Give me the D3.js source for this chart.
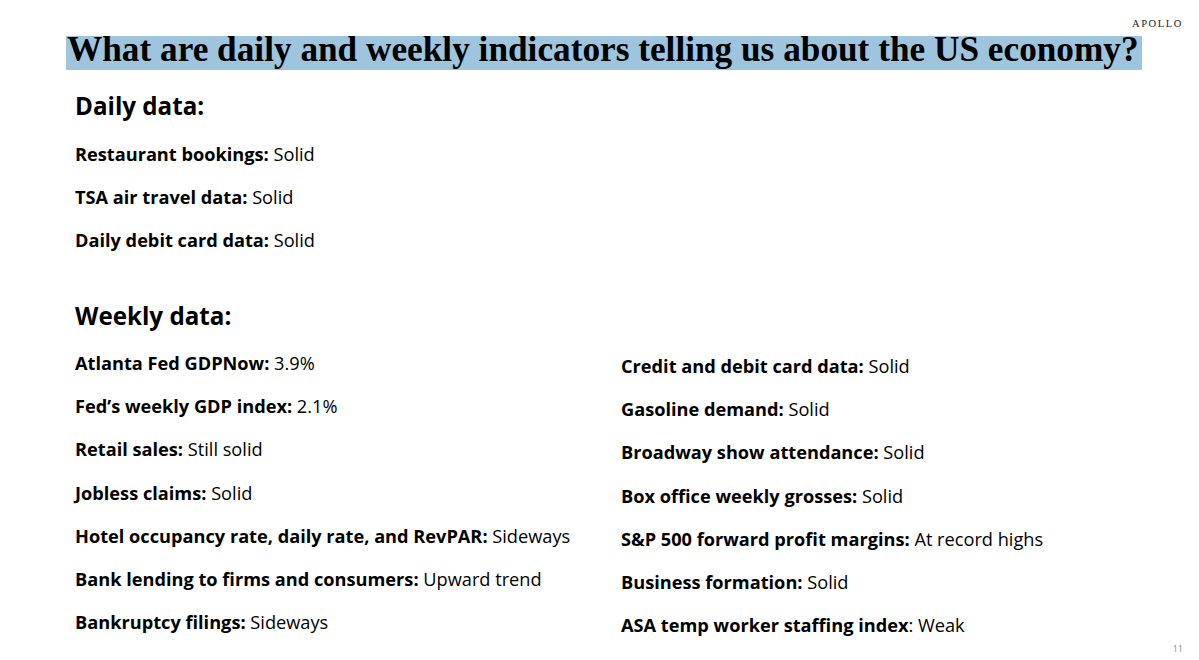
<!DOCTYPE html>
<html lang="en">
<head>
    <meta charset="UTF-8">
    <title>Daily and weekly indicators</title>
    <script src="https://d3js.org/d3.v7.min.js"></script>
    <style>
        body { margin: 0; background: #fff; }
    </style>
</head>
<body>

<svg id="svg-container" width="1199" height="660"></svg>
<script>

    const titleText = "What are daily and weekly indicators telling us about the US economy?";

    const dailyLabels = ["Restaurant bookings:", "TSA air travel data:", "Daily debit card data:"];
    const dailyValues = ["Solid", "Solid", "Solid"];

    const weeklyLeftLabels = [
        "Atlanta Fed GDPNow:", "Fed\u2019s weekly GDP index:", "Retail sales:", "Jobless claims:",
        "Hotel occupancy rate, daily rate, and RevPAR:", "Bank lending to firms and consumers:", "Bankruptcy filings:"
    ];
    const weeklyLeftValues = ["3.9%", "2.1%", "Still solid", "Solid", "Sideways", "Upward trend", "Sideways"];

    const weeklyRightLabels = [
        "Credit and debit card data:", "Gasoline demand:", "Broadway show attendance:", "Box office weekly grosses:",
        "S&P 500 forward profit margins:", "Business formation:", "ASA temp worker staffing index"
    ];
    const weeklyRightValues = ["Solid", "Solid", "Solid", "Solid", "At record highs", "Solid", ": Weak"];

    window.onload = function () {

        const svg = d3.select("#svg-container");
        const sans = "'Open Sans', 'Noto Sans', sans-serif";

        // title band
        svg.append("rect")
            .attr("x", 66).attr("y", 36)
            .attr("width", 1076).attr("height", 34)
            .attr("fill", "#9fc4de");

        const title = svg.append("text")
            .attr("x", 67).attr("y", 61)
            .attr("font-family", "'Liberation Serif', serif")
            .attr("font-weight", "bold")
            .attr("font-size", 34)
            .attr("fill", "#000")
            .text(titleText);
        // fit title to band width
        const tw = title.node().getComputedTextLength();
        title.attr("font-size", 34 * 1072 / tw);

        svg.append("text")
            .attr("x", 1183).attr("y", 27)
            .attr("text-anchor", "end")
            .attr("font-family", "'Liberation Serif', serif")
            .attr("font-size", 10.5)
            .attr("letter-spacing", 1.6)
            .attr("fill", "#222")
            .text("APOLLO");

        svg.append("text")
            .attr("x", 1183).attr("y", 652)
            .attr("text-anchor", "end")
            .attr("font-family", sans)
            .attr("font-size", 9)
            .attr("fill", "#888")
            .text("11");

        // section headers
        svg.append("text")
            .attr("x", 75).attr("y", 115)
            .attr("font-family", sans).attr("font-weight", "bold").attr("font-size", 24.2)
            .text("Daily data:");
        svg.append("text")
            .attr("x", 75).attr("y", 325)
            .attr("font-family", sans).attr("font-weight", "bold").attr("font-size", 24.2)
            .text("Weekly data:");

        // row positions
        const yDaily = d3.scaleLinear().domain([0, 1]).range([161, 204]);
        const yLeft = d3.scaleLinear().domain([0, 1]).range([370, 413.2]);
        const yRight = d3.scaleLinear().domain([0, 1]).range([373, 416.2]);

        function drawRows(labels, values, x, y) {
            const rows = labels.map((l, i) => ({label: l, value: values[i], i}));
            const t = svg.append("g").selectAll("text")
                .data(rows)
                .enter()
                .append("text")
                .attr("x", x)
                .attr("y", d => y(d.i))
                .attr("font-family", sans)
                .attr("font-size", 18.2)
                .attr("fill", "#000");
            t.append("tspan").attr("font-weight", "bold").text(d => d.label);
            t.append("tspan").text(d => (d.value.startsWith(":") ? "" : " ") + d.value);
        }

        drawRows(dailyLabels, dailyValues, 75, yDaily);
        drawRows(weeklyLeftLabels, weeklyLeftValues, 75, yLeft);
        drawRows(weeklyRightLabels, weeklyRightValues, 621, yRight);
    }

</script>

</body>
</html>
